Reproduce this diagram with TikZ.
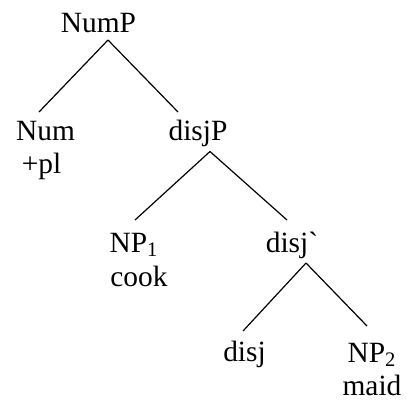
\documentclass[tikz,border=0pt]{standalone}
\usepackage{fontspec}
\setmainfont{Liberation Serif}
\usepackage{tikz}

\newcommand{\treefont}{\rmfamily\fontsize{14.7}{17}\selectfont}

\begin{document}
\begin{tikzpicture}[
  x=0.5pt, y=-0.5pt,
  treelabel/.style={inner sep=0pt, anchor=base},
  treeline/.style={line width=0.6pt}
]
  \useasboundingbox (0,0) rectangle (407,402);

  \node[treelabel] (nump) at (98.5,32) {\treefont NumP};
  \node[treelabel] (num) at (45.5,140) {\treefont Num};
  \node[treelabel] (pl) at (41.5,173) {\treefont +pl};
  \node[treelabel] (disjp) at (198,140) {\treefont disjP};
  \node[treelabel] (npone) at (134,252) {\treefont NP\textsubscript{1}};
  \node[treelabel] (cook) at (139,286) {\treefont cook};
  \node[treelabel] (disjbar) at (292,252) {\treefont disj\textasciigrave};
  \node[treelabel] (disj) at (244.5,361) {\treefont disj};
  \node[treelabel] (nptwo) at (372,362) {\treefont NP\textsubscript{2}};
  \node[treelabel] (maid) at (372,395) {\treefont maid};

  % branch points under and over the labels
  \coordinate (numptip) at (108,40);
  \coordinate (numtop) at (39,112);
  \coordinate (disjptop) at (178,112);
  \coordinate (disjptip) at (210,151.5);
  \coordinate (nponetop) at (135,220);
  \coordinate (disjbartop) at (287,220);
  \coordinate (disjbartip) at (306,263);
  \coordinate (disjtop) at (243,331);
  \coordinate (nptwotop) at (367,326);

  \draw[treeline] (numptip) -- (numtop);
  \draw[treeline] (numptip) -- (disjptop);
  \draw[treeline] (disjptip) -- (nponetop);
  \draw[treeline] (disjptip) -- (disjbartop);
  \draw[treeline] (disjbartip) -- (disjtop);
  \draw[treeline] (disjbartip) -- (nptwotop);
\end{tikzpicture}
\end{document}
